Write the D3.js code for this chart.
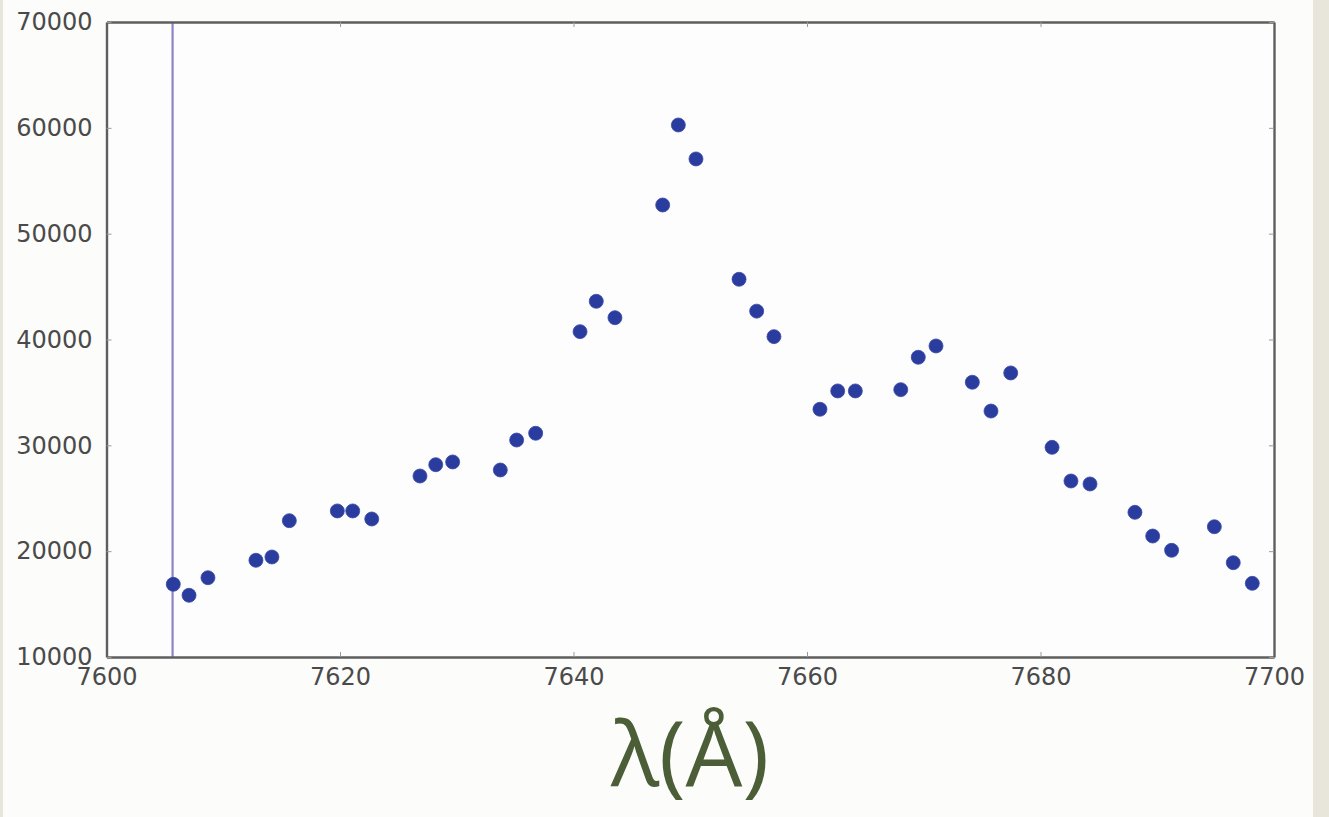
<!DOCTYPE html>
<html>
<head>
<meta charset="utf-8">
<script src="https://cdn.jsdelivr.net/npm/d3@7"></script>
<style>
  html, body { margin: 0; padding: 0; background: #e8e6da; }
  svg { display: block; }
  .tick text { font-family: "DejaVu Sans", sans-serif; font-size: 24px; fill: #4a4a4a; }
</style>
</head>
<body>
<svg width="1329" height="817"></svg>
<script>
const wavelength = [
  7605.72, 7607.07, 7608.69, 7612.80, 7614.17, 7615.66, 7619.77, 7621.09, 7622.72,
  7626.85, 7628.20, 7629.65, 7633.73, 7635.13, 7636.76, 7640.56, 7641.95, 7643.55,
  7647.64, 7648.98, 7650.49, 7654.18, 7655.69, 7657.17, 7661.11, 7662.63, 7664.14,
  7668.03, 7669.53, 7671.05, 7674.16, 7675.76, 7677.45, 7680.99, 7682.61, 7684.24,
  7688.09, 7689.61, 7691.23, 7694.89, 7696.51, 7698.14
];
const flux = [
  16870, 15830, 17490, 19140, 19450, 22880, 23800, 23800, 23040,
  27100, 28170, 28430, 27670, 30500, 31140, 40740, 43610, 42060,
  52710, 60270, 57060, 45690, 42680, 40270, 33410, 35140, 35140,
  35260, 38320, 39390, 35960, 33240, 36840, 29810, 26630, 26350,
  23670, 21430, 20080, 22310, 18910, 16960
];
const markerLine = 7605.66;
const xTicks = [7600, 7620, 7640, 7660, 7680, 7700];
const yTicks = [10000, 20000, 30000, 40000, 50000, 60000, 70000];
const xLabel = "λ(Å)";

const svg = d3.select("svg");
const width = parseInt(svg.attr("width"));
const height = parseInt(svg.attr("height"));

const margin = {left: 106.5, top: 22, right: 1274, bottom: 657};

// paper area
svg.append("rect")
  .attr("x", 3).attr("y", 0)
  .attr("width", 1310).attr("height", height)
  .attr("fill", "#fcfcfa");

const x = d3.scaleLinear().domain([7600, 7700]).range([margin.left, margin.right]);
const y = d3.scaleLinear().domain([10000, 70000]).range([margin.bottom, margin.top]);

svg.append("rect")
  .attr("x", margin.left).attr("y", margin.top)
  .attr("width", margin.right - margin.left)
  .attr("height", margin.bottom - margin.top)
  .attr("fill", "#fdfdfd");

// vertical marker
svg.append("line")
  .attr("x1", x(markerLine)).attr("x2", x(markerLine))
  .attr("y1", margin.top).attr("y2", margin.bottom)
  .attr("stroke", "#8c84c6")
  .attr("stroke-width", 2.2);

// axes (matplotlib style: inward ticks on all four sides)
const axisBottom = d3.axisBottom(x).tickValues(xTicks).tickFormat(d3.format("d"))
  .tickSizeInner(-5).tickSizeOuter(0).tickPadding(11);
const axisTop = d3.axisTop(x).tickValues(xTicks).tickFormat("")
  .tickSizeInner(-5).tickSizeOuter(0);
const axisLeft = d3.axisLeft(y).tickValues(yTicks).tickFormat(d3.format("d"))
  .tickSizeInner(-5).tickSizeOuter(0).tickPadding(14);
const axisRight = d3.axisRight(y).tickValues(yTicks).tickFormat("")
  .tickSizeInner(-5).tickSizeOuter(0);

function styleAxis(g) {
  g.select(".domain").attr("stroke", "#5e5e5e").attr("stroke-width", 2.4);
  g.selectAll(".tick line").attr("stroke", "#999").attr("stroke-width", 1);
}

svg.append("g").attr("transform", `translate(0,${margin.bottom})`).call(axisBottom).call(styleAxis);
svg.append("g").attr("transform", `translate(0,${margin.top})`).call(axisTop).call(styleAxis);
svg.append("g").attr("transform", `translate(${margin.left},0)`).call(axisLeft).call(styleAxis);
svg.append("g").attr("transform", `translate(${margin.right},0)`).call(axisRight).call(styleAxis);

svg.selectAll(".tick text").attr("fill", "#4a4a4a");

// points
const points = wavelength.map((w, i) => ({w: w, f: flux[i]}));

svg.append("g").selectAll("circle.pt")
  .data(points)
  .enter()
  .append("circle")
  .attr("class", "pt")
  .attr("cx", d => x(d.w))
  .attr("cy", d => y(d.f))
  .attr("r", 7)
  .attr("fill", "#2a3c9e")
  .attr("stroke", "#3a4aa8")
  .attr("stroke-width", 0.8);

// big axis title
svg.append("text")
  .attr("x", 690)
  .attr("y", 786)
  .attr("text-anchor", "middle")
  .attr("font-family", "'Open Sans', 'Noto Sans', sans-serif")
  .attr("font-size", 90)
  .attr("fill", "#4b5e38")
  .text(xLabel);
</script>
</body>
</html>
